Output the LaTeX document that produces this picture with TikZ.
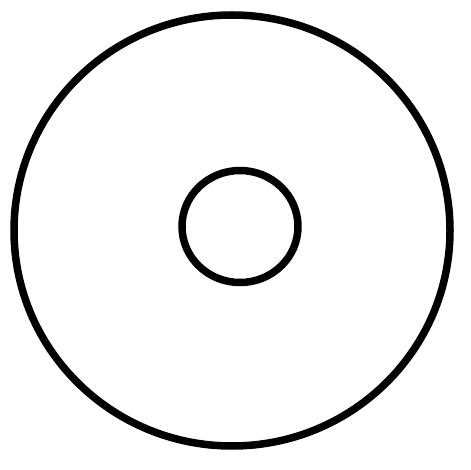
\documentclass[tikz,border=0pt]{standalone}
\begin{document}
\begin{tikzpicture}[x=1pt,y=-1pt,ring/.style={draw=black,line width=7.5pt}]
\useasboundingbox (0,0) rectangle (470,470);
\fill[white] (0,0) rectangle (470,470);
\draw[ring] (232,230.5) ellipse [x radius=218, y radius=215.5];
\draw[ring] (240,226.5) ellipse [x radius=58, y radius=56];
\end{tikzpicture}
\end{document}
